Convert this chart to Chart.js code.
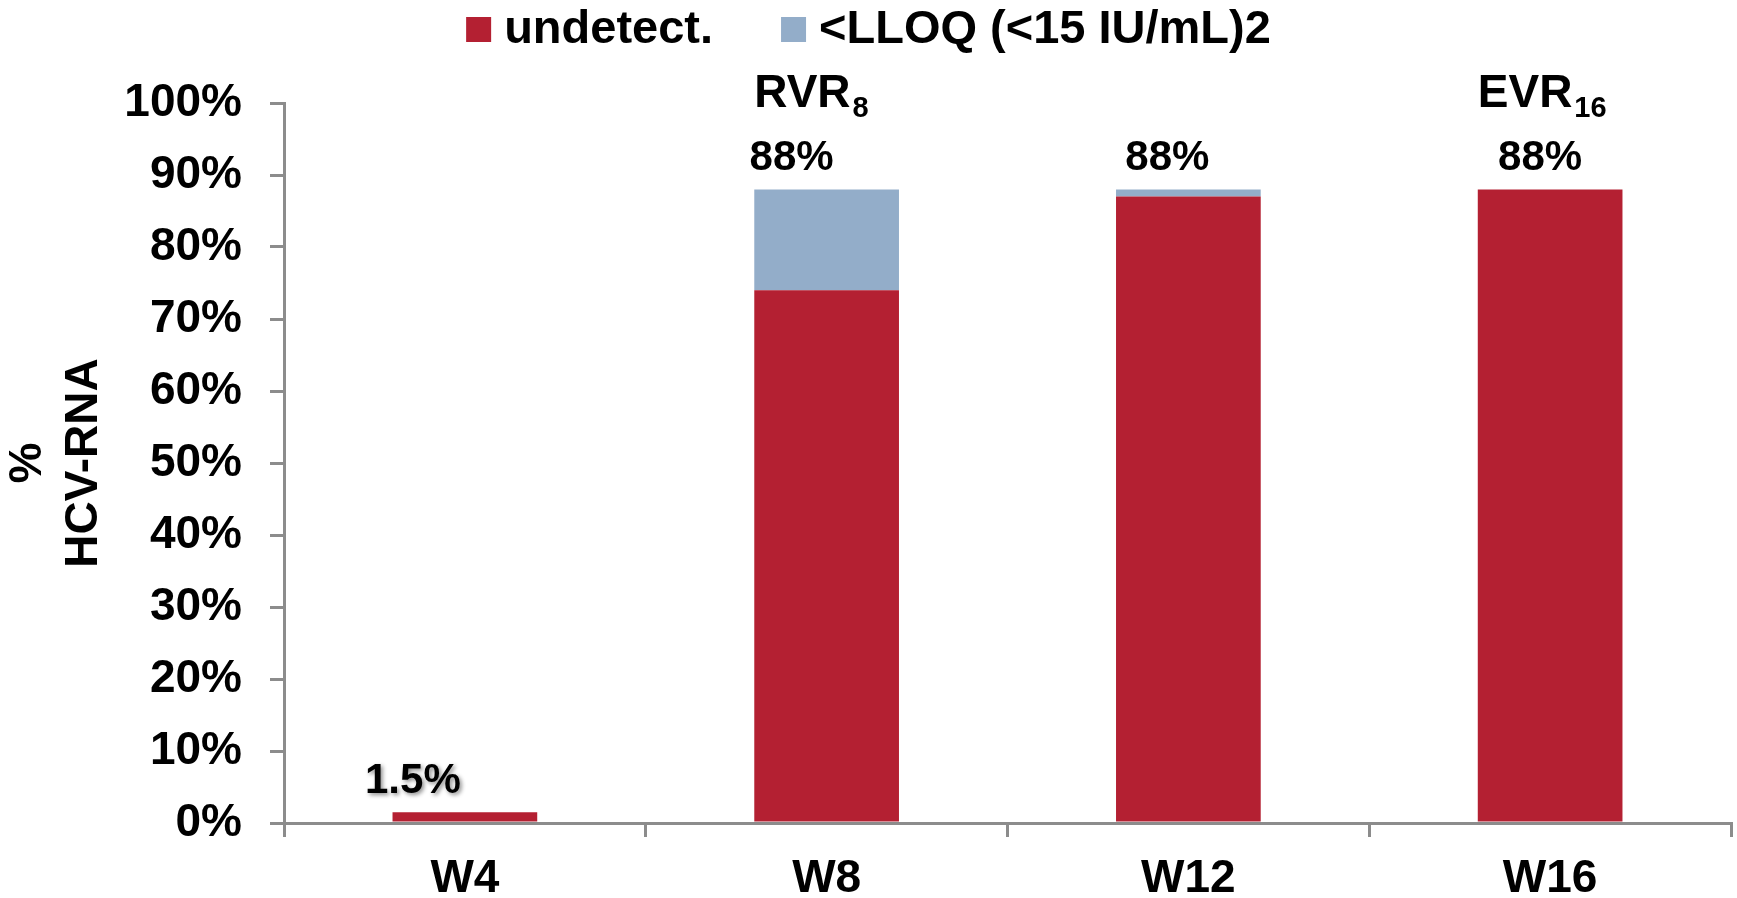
<!DOCTYPE html>
<html>
<head>
<meta charset="utf-8">
<script src="https://cdn.jsdelivr.net/npm/chart.js@4.4.1/dist/chart.umd.min.js"></script>
<style>
  html, body { margin: 0; padding: 0; background: #fff; }
</style>
</head>
<body>
<canvas id="hcvChart" width="1737" height="898"></canvas>
<script>
// data
const weeks = ["W4", "W8", "W12", "W16"];
const undetect = [1.5, 74, 87, 88];
const belowLloq = [0, 14, 1, 0];
const seriesNames = ["undetect.", "<LLOQ (<15 IU/mL)2"];
const milestoneMain = ["", "RVR", "", "EVR"];
const milestoneSub = ["", "8", "", "16"];

// look
const red = "#B42032";
const blue = "#93ADC9";
const axisGrey = "#8C8C8C";
const fontFam = "'Liberation Sans', Arial, sans-serif";
const labelShift = [-52, -35, -21, -10]; // labels sit a bit left of the bars on the slide
const labelShadow = [true, false, false, false];

Chart.defaults.font.family = fontFam;

const ctx = document.getElementById("hcvChart");

function pct(v) {
    return (Number.isInteger(v) ? v : v.toFixed(1)) + "%";
}

const barLabels = {
    id: "barLabels",
    afterDatasetsDraw(chart) {
        const c = chart.ctx;
        const bars = chart.getDatasetMeta(0).data;
        const yScale = chart.scales.y;
        c.save();
        c.fillStyle = "#000";
        c.textBaseline = "alphabetic";
        bars.forEach((bar, i) => {
            const total = undetect[i] + belowLloq[i];
            const yTop = yScale.getPixelForValue(total);
            c.save();
            c.font = "bold 42px " + fontFam;
            c.textAlign = "center";
            if (labelShadow[i]) {
                c.shadowColor = "rgba(0,0,0,0.45)";
                c.shadowBlur = 4;
                c.shadowOffsetX = 2;
                c.shadowOffsetY = 2;
            }
            c.fillText(pct(total), bar.x + labelShift[i], yTop - 19);
            c.restore();

            if (milestoneMain[i]) {
                const left = bar.x - bar.width / 2;
                const base = yScale.getPixelForValue(100) + 4;
                c.textAlign = "left";
                c.font = "bold 46px " + fontFam;
                c.fillText(milestoneMain[i], left, base);
                const w = c.measureText(milestoneMain[i]).width;
                c.font = "bold 29px " + fontFam;
                c.fillText(milestoneSub[i], left + w + 2, base + 10);
            }
        });
        c.restore();
    }
};

const slideLegend = {
    id: "slideLegend",
    afterDraw(chart) {
        const c = chart.ctx;
        const colors = [red, blue];
        const box = 25, gapText = 13, gapItem = 68;
        c.save();
        c.font = "bold 47px " + fontFam;
        c.textBaseline = "alphabetic";
        c.textAlign = "left";
        const widths = seriesNames.map(n => c.measureText(n).width);
        let total = 0;
        widths.forEach((w, i) => { total += box + gapText + w + (i ? gapItem : 0); });
        let x = (chart.width - total) / 2;
        seriesNames.forEach((n, i) => {
            c.fillStyle = colors[i];
            c.fillRect(x, 17, box, box);
            c.fillStyle = "#000";
            c.fillText(n, x + box + gapText, 43);
            x += box + gapText + widths[i] + gapItem;
        });
        c.restore();
    }
};

new Chart(ctx, {
    type: "bar",
    data: {
        labels: weeks,
        datasets: [
            { label: seriesNames[0], data: undetect, backgroundColor: red, borderWidth: 0 },
            { label: seriesNames[1], data: belowLloq, backgroundColor: blue, borderWidth: 0 }
        ]
    },
    options: {
        responsive: false,
        animation: false,
        layout: { padding: { top: 103, right: 6, bottom: 0, left: 0 } },
        datasets: { bar: { categoryPercentage: 1, barPercentage: 0.4 } },
        plugins: {
            legend: { display: false },
            tooltip: { enabled: false }
        },
        scales: {
            x: {
                stacked: true,
                z: 1,
                grid: { drawOnChartArea: false, drawTicks: true, tickLength: 14, color: axisGrey, lineWidth: 3, offset: true },
                border: { display: true, color: axisGrey, width: 3 },
                ticks: { color: "#000", font: { size: 46, weight: "bold" }, padding: 15 },
                afterFit(scale) { scale.height = 75; }
            },
            y: {
                stacked: true,
                min: 0,
                max: 100,
                grid: { drawOnChartArea: false, drawTicks: true, tickLength: 14, color: axisGrey, lineWidth: 3 },
                border: { display: true, color: axisGrey, width: 3 },
                ticks: {
                    stepSize: 10,
                    color: "#000",
                    font: { size: 46, weight: "bold" },
                    padding: 28,
                    callback: v => v + "%"
                },
                title: {
                    display: true,
                    text: ["%", "HCV-RNA"],
                    color: "#000",
                    font: { size: 46, weight: "bold", lineHeight: "56px" },
                    padding: { top: 0, bottom: 0 }
                },
                afterFit(scale) { scale.width = 284; }
            }
        }
    },
    plugins: [barLabels, slideLegend]
});
</script>
</body>
</html>
